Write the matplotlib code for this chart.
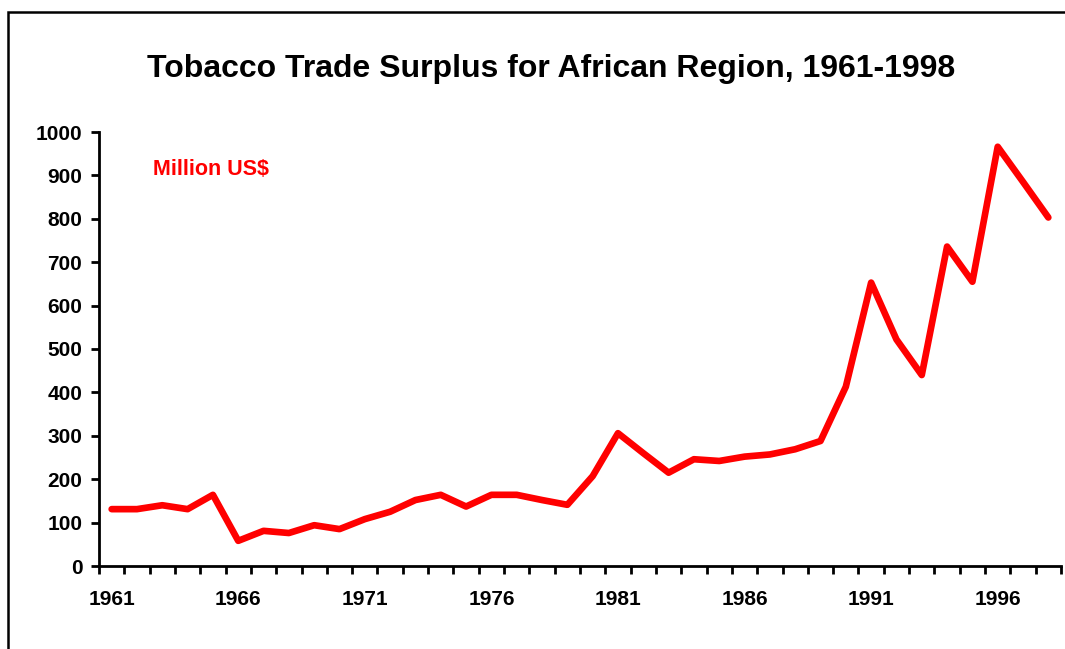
import matplotlib.pyplot as plt
from matplotlib.patches import Rectangle

plt.rcParams['font.family'] = ['Liberation Sans', 'DejaVu Sans']

years = list(range(1961, 1999))
surplus = [131, 131, 140, 131, 164, 58, 81, 76, 94, 85,
           108, 125, 152, 164, 137, 164, 164, 152, 141, 207,
           306, 260, 215, 246, 242, 252, 257, 269, 288, 413,
           653, 522, 440, 736, 655, 966, 885, 803]
year_labels = [1961, 1966, 1971, 1976, 1981, 1986, 1991, 1996]

fig = plt.figure(figsize=(10.65, 6.49), dpi=100)
fig.patches.append(Rectangle((8 / 1065, -0.1), 1.2, 1 - 12 / 649 + 0.1,
                             transform=fig.transFigure, fill=False,
                             edgecolor='black', linewidth=1.8))

ax = fig.add_axes([99 / 1065, 1 - 566 / 649, 962 / 1065, 434 / 649])
ax.plot(years, surplus, color='#ff0000', linewidth=4.8,
        solid_joinstyle='round', solid_capstyle='round', clip_on=False)

ax.set_xlim(1960.5, 1998.5)
ax.set_ylim(0, 1000)
ax.set_yticks(range(0, 1001, 100))
ax.set_xticks(year_labels)
ax.set_xticks([y - 0.5 for y in years] + [1998.5], minor=True)

for s in ['top', 'right']:
    ax.spines[s].set_visible(False)
for s in ['left', 'bottom']:
    ax.spines[s].set_linewidth(2)

ax.tick_params(axis='y', direction='out', length=6, width=2, pad=6,
               labelsize=15)
ax.tick_params(axis='x', which='major', length=0, pad=17, labelsize=15)
ax.tick_params(axis='x', which='minor', direction='out', length=6, width=2)
for lab in ax.get_xticklabels() + ax.get_yticklabels():
    lab.set_fontweight('bold')

ax.text(153 / 1065, 1 - 170 / 649, 'Million US$', transform=fig.transFigure,
        color='#ff0000', fontsize=15.5, fontweight='bold', va='center')
fig.text(551 / 1065, 1 - 69 / 649,
         'Tobacco Trade Surplus for African Region, 1961-1998',
         ha='center', va='center', fontsize=23, fontweight='bold')

fig.savefig('out.png', dpi=100)
